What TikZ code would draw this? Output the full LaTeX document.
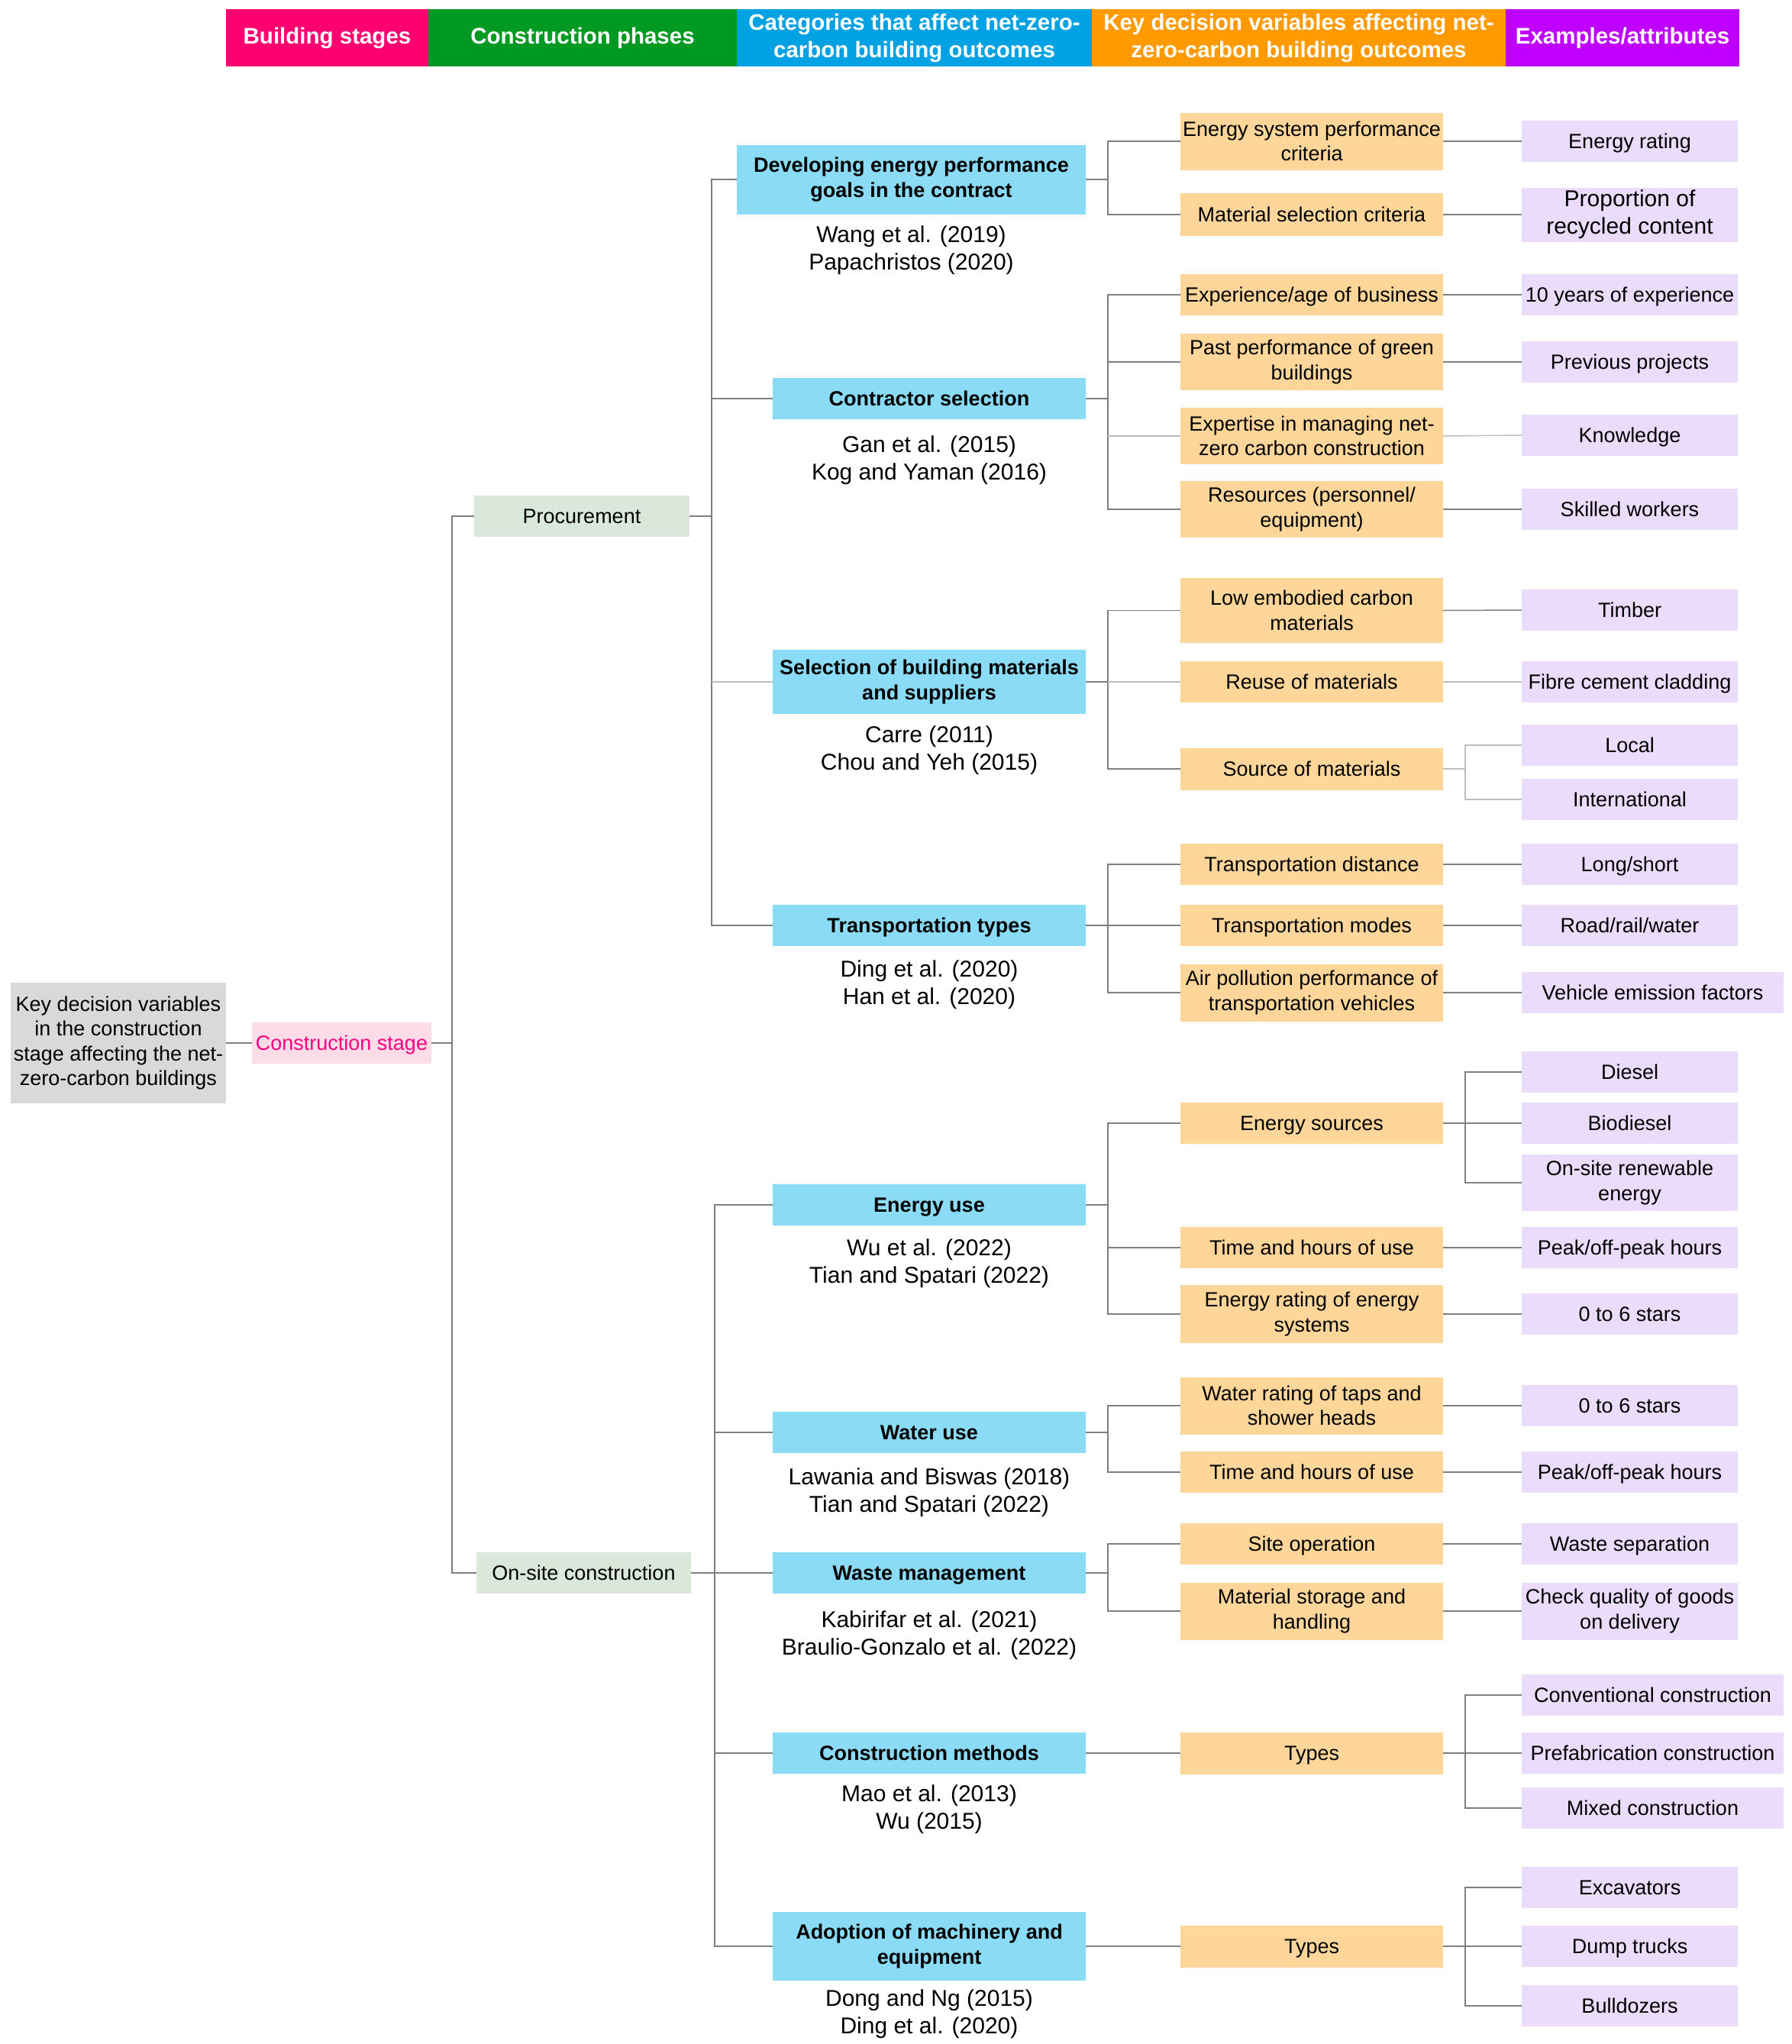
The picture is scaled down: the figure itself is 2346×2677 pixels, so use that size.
\documentclass[tikz,border=0pt]{standalone}
\usepackage{fontspec}
\setmainfont{Liberation Sans}
\usetikzlibrary{calc}
\definecolor{hpink}{HTML}{FF0070}
\definecolor{hgreen}{HTML}{009A22}
\definecolor{hblue}{HTML}{00A2E3}
\definecolor{horange}{HTML}{FF9A00}
\definecolor{hpurple}{HTML}{C000FF}
\definecolor{rootgray}{HTML}{D9D9D9}
\definecolor{stagepink}{HTML}{FCDCE6}
\definecolor{stagetext}{HTML}{FF0080}
\definecolor{phasegreen}{HTML}{DAE8DC}
\definecolor{catblue}{HTML}{8ADBF5}
\definecolor{decorange}{HTML}{FFD699}
\definecolor{expurple}{HTML}{ECDCFC}
\definecolor{linegray}{HTML}{7F7F7F}
\definecolor{lightline}{HTML}{BDBDBD}
\newcommand\myfs{\fontsize{27}{32.4}\selectfont}
\newcommand\myrfs{\fontsize{30}{36}\selectfont}
\newcommand\myhfs{\fontsize{29.5}{36}\selectfont\bfseries}
\tikzset{
  base/.style={inner sep=0pt, align=center, font=\myfs, text height=19.5pt, text depth=0pt},
  ml/.style={text height={}, text depth={}},
  hdr/.style={inner sep=0pt, align=center, font=\myhfs, text=white, minimum height=75},
  phase/.style={base, fill=phasegreen, minimum width=282, minimum height=54},
  cat/.style={base, fill=catblue, font=\myfs\bfseries, minimum width=410, minimum height=54},
  dec/.style={base, fill=decorange, minimum width=344, minimum height=54},
  ex/.style={base, fill=expurple, minimum width=283, minimum height=54},
  exw/.style={base, fill=expurple, minimum width=343, minimum height=54},
  refs/.style={inner sep=0pt, align=center, font=\myrfs},
  conn/.style={draw=linegray, line width=1.5pt},
  lconn/.style={draw=lightline, line width=1.5pt},
}
\begin{document}
\begin{tikzpicture}[x=1pt,y=-1pt]
\useasboundingbox (0,0) rectangle (2346,2677);
% bus coordinates
\coordinate (bus1) at (592,0);
\coordinate (bus2) at (932,0);
\coordinate (bus2b) at (936,0);
\coordinate (bus3) at (1451,0);
\coordinate (bus4) at (1919,0);
% header
\node[hdr, fill=hpink, minimum width=265] (h1) at (428.5,49.5) {Building stages};
\node[hdr, fill=hgreen, minimum width=404] (h2) at (763,49.5) {Construction phases};
\node[hdr, fill=hblue, minimum width=465] (h3) at (1197.5,49.5) {Categories that affect net-zero-\\carbon building outcomes};
\node[hdr, fill=horange, minimum width=542] (h4) at (1701,49.5) {Key decision variables affecting net-\\zero-carbon building outcomes};
\node[hdr, fill=hpurple, minimum width=306] (h5) at (2125,49.5) {Examples/attributes};
% root and stage
\node[base, ml, fill=rootgray, minimum width=282, minimum height=158] (root) at (155,1366) {Key decision variables\\in the construction\\stage affecting the net-\\zero-carbon buildings};
\node[base, fill=stagepink, text=stagetext, minimum width=235, minimum height=54] (cs) at (447.5,1366) {Construction stage};
% phases
\node[phase] (proc) at (762,676) {Procurement};
\node[phase, minimum width=281] (ons) at (764.5,2060) {On-site construction};
% categories
\node[cat, ml, minimum width=457, minimum height=91] (c1) at (1193.5,235) {Developing energy performance\\goals in the contract};
\node[cat] (c2) at (1217,522) {Contractor selection};
\node[cat, ml, minimum height=84] (c3) at (1217,893) {Selection of building materials\\and suppliers};
\node[cat] (c4) at (1217,1212) {Transportation types};
\node[cat] (c5) at (1217,1578) {Energy use};
\node[cat] (c6) at (1217,1876) {Water use};
\node[cat] (c7) at (1217,2060) {Waste management};
\node[cat] (c8) at (1217,2296) {Construction methods};
\node[cat, ml, minimum height=90] (c9) at (1217,2549) {Adoption of machinery and\\equipment};
% references
\node[refs] (r1) at (1193.5,328) {Wang et al. (2019)\\Papachristos (2020)};
\node[refs] (r2) at (1217,603) {Gan et al. (2015)\\Kog and Yaman (2016)};
\node[refs] (r3) at (1217,983) {Carre (2011)\\Chou and Yeh (2015)};
\node[refs] (r4) at (1217,1290) {Ding et al. (2020)\\Han et al. (2020)};
\node[refs] (r5) at (1217,1655) {Wu et al. (2022)\\Tian and Spatari (2022)};
\node[refs] (r6) at (1217,1955) {Lawania and Biswas (2018)\\Tian and Spatari (2022)};
\node[refs] (r7) at (1217,2142) {Kabirifar et al. (2021)\\Braulio-Gonzalo et al. (2022)};
\node[refs] (r8) at (1217,2370) {Mao et al. (2013)\\Wu (2015)};
\node[refs] (r9) at (1217,2638) {Dong and Ng (2015)\\Ding et al. (2020)};
% decision variables
\node[dec, ml, minimum height=75] (d1) at (1718,185) {Energy system performance\\criteria};
\node[dec, minimum height=56] (d2) at (1718,281) {Material selection criteria};
\node[dec] (d3) at (1718,386) {Experience/age of business};
\node[dec, ml, minimum height=74] (d4) at (1718,474) {Past performance of green\\buildings};
\node[dec, ml, minimum height=74] (d5) at (1718,571) {Expertise in managing net-\\zero carbon construction};
\node[dec, ml, minimum height=74] (d6) at (1718,667) {Resources (personnel/\\equipment)};
\node[dec, ml, minimum height=85] (d7) at (1718,799.5) {Low embodied carbon\\materials};
\node[dec] (d8) at (1718,893) {Reuse of materials};
\node[dec, minimum height=55] (d9) at (1718,1007) {Source of materials};
\node[dec] (d10) at (1718,1132) {Transportation distance};
\node[dec] (d11) at (1718,1212) {Transportation modes};
\node[dec, ml, minimum height=75] (d12) at (1718,1300) {Air pollution performance of\\transportation vehicles};
\node[dec] (d13) at (1718,1471) {Energy sources};
\node[dec] (d14) at (1718,1634) {Time and hours of use};
\node[dec, ml, minimum height=76] (d15) at (1718,1721) {Energy rating of energy\\systems};
\node[dec, ml, minimum height=75] (d16) at (1718,1841) {Water rating of taps and\\shower heads};
\node[dec] (d17) at (1718,1928) {Time and hours of use};
\node[dec] (d18) at (1718,2022) {Site operation};
\node[dec, ml, minimum height=75] (d19) at (1718,2110) {Material storage and\\handling};
\node[dec, minimum height=55] (d20) at (1718,2296) {Types};
\node[dec, minimum height=55] (d21) at (1718,2549) {Types};
% examples
\node[ex] (e1) at (2134.5,185) {Energy rating};
\node[ex, ml, minimum height=71, font=\myrfs] (e2) at (2134.5,281) {Proportion of\\recycled content};
\node[ex] (e3) at (2134.5,386) {10 years of experience};
\node[ex] (e4) at (2134.5,474) {Previous projects};
\node[ex] (e5) at (2134.5,570) {Knowledge};
\node[ex] (e6) at (2134.5,667) {Skilled workers};
\node[ex] (e7) at (2134.5,799) {Timber};
\node[ex] (e8) at (2134.5,893) {Fibre cement cladding};
\node[ex] (e9) at (2134.5,976) {Local};
\node[ex] (e10) at (2134.5,1047) {International};
\node[ex] (e11) at (2134.5,1132) {Long/short};
\node[ex] (e12) at (2134.5,1212) {Road/rail/water};
\node[exw] (e13) at (2164.5,1300) {Vehicle emission factors};
\node[ex] (e14) at (2134.5,1404) {Diesel};
\node[ex] (e15) at (2134.5,1471) {Biodiesel};
\node[ex, ml, minimum height=74] (e16) at (2134.5,1549) {On-site renewable\\energy};
\node[ex] (e17) at (2134.5,1634) {Peak/off-peak hours};
\node[ex] (e18) at (2134.5,1721) {0 to 6 stars};
\node[ex] (e19) at (2134.5,1841) {0 to 6 stars};
\node[ex] (e20) at (2134.5,1928) {Peak/off-peak hours};
\node[ex] (e21) at (2134.5,2022) {Waste separation};
\node[ex, ml, minimum height=75] (e22) at (2134.5,2110) {Check quality of goods\\on delivery};
\node[exw] (e23) at (2164.5,2220) {Conventional construction};
\node[exw] (e24) at (2164.5,2296) {Prefabrication construction};
\node[exw] (e25) at (2164.5,2368) {Mixed construction};
\node[ex] (e26) at (2134.5,2472) {Excavators};
\node[ex] (e27) at (2134.5,2549) {Dump trucks};
\node[ex] (e28) at (2134.5,2627) {Bulldozers};
% connectors: root -> stage -> phases
\draw[conn] (root.east) -- (cs.west);
\draw[conn] (cs.east) -| (bus1 |- proc.west) -- (proc.west);
\draw[conn] (cs.east) -| (bus1 |- ons.west) -- (ons.west);
% phases -> categories
\foreach \c in {c1,c2,c4} {\draw[conn] (proc.east) -| (bus2 |- \c.west) -- (\c.west);}
\draw[conn] (proc.east) -| (bus2 |- c3.west);
\draw[lconn] (bus2 |- c3.west) -- (c3.west);
\foreach \c in {c5,c6,c7,c8,c9} {\draw[conn] (ons.east) -| (bus2b |- \c.west) -- (\c.west);}
% categories -> decisions
\foreach \p/\d in {c1/d1,c1/d2,c2/d3,c2/d4,c2/d6,c3/d7,c3/d9,c4/d10,c4/d11,c4/d12,c5/d13,c5/d14,c5/d15,c6/d16,c6/d17,c7/d18,c7/d19} {\draw[conn] (\p.east) -| (bus3 |- \d.west) -- (\d.west);}
\draw[lconn] (bus3 |- d5.west) -- (d5.west);
\draw[lconn] (bus3 |- d8.west) -- (d8.west);
\draw[conn] (c3.east) -- (bus3 |- c3.east);
\draw[conn] (c8.east) -- (d20.west);
\draw[conn] (c9.east) -- (d21.west);
% decisions -> examples (direct)
\foreach \d/\e in {d1/e1,d2/e2,d3/e3,d4/e4,d6/e6,d7/e7,d10/e11,d11/e12,d12/e13,d14/e17,d15/e18,d16/e19,d17/e20,d18/e21,d19/e22} {\draw[conn] (\d.east) -- (\e.west);}
\draw[lconn] (d5.east) -- (e5.west);
\draw[lconn] (d8.east) -- (e8.west);
% decisions -> examples (forks)
\foreach \e in {e9,e10} {\draw[lconn] (d9.east) -| (bus4 |- \e.west) -- (\e.west);}
\foreach \e in {e14,e15,e16} {\draw[conn] (d13.east) -| (bus4 |- \e.west) -- (\e.west);}
\foreach \e in {e23,e24,e25} {\draw[conn] (d20.east) -| (bus4 |- \e.west) -- (\e.west);}
\foreach \e in {e26,e27,e28} {\draw[conn] (d21.east) -| (bus4 |- \e.west) -- (\e.west);}
\end{tikzpicture}
\end{document}
